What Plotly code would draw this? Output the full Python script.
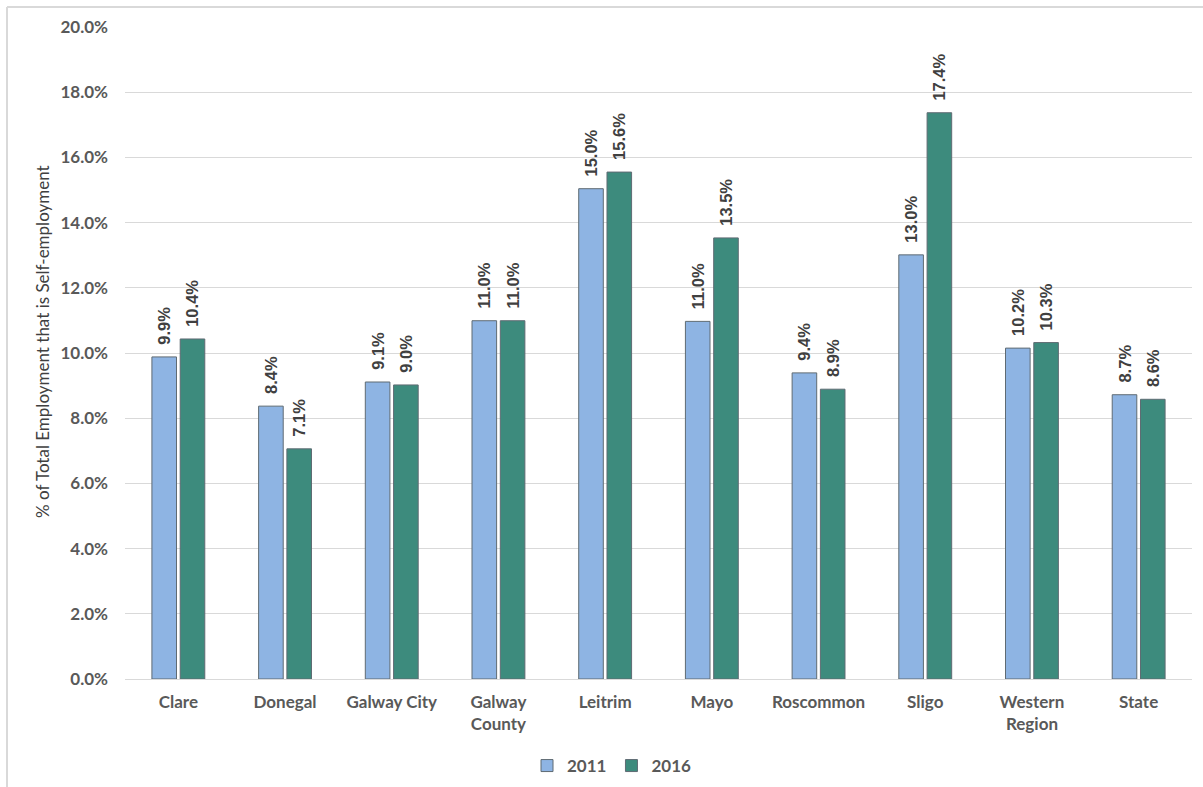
import plotly.graph_objects as go

categories = ["Clare", "Donegal", "Galway City", "Galway<br>County", "Leitrim",
              "Mayo", "Roscommon", "Sligo", "Western<br>Region", "State"]
values_2011 = [9.88, 8.37, 9.11, 10.99, 15.04, 10.97, 9.39, 13.01, 10.15, 8.72]
values_2016 = [10.43, 7.06, 9.02, 10.99, 15.55, 13.53, 8.89, 17.37, 10.32, 8.58]
y_ticks = [0, 2, 4, 6, 8, 10, 12, 14, 16, 18, 20]
y_tick_labels = [f"{v:.1f}%" for v in y_ticks]

label_font = dict(family="Liberation Sans, Arial, sans-serif", size=16.5, color="#404040",
                  weight="bold")
pad = "\u00a0\u00a0"

fig = go.Figure()
fig.add_trace(go.Bar(
    name="2011", x=categories, y=values_2011,
    marker=dict(color="#8EB4E3", line=dict(color="#5F6B73", width=1)),
    text=[f"{pad}{v:.1f}%" for v in values_2011], textposition="outside",
    textangle=-90, textfont=label_font, cliponaxis=False, constraintext="none",
))
fig.add_trace(go.Bar(
    name="2016", x=categories, y=values_2016,
    marker=dict(color="#3D8B7D", line=dict(color="#5F6B73", width=1)),
    text=[f"{pad}{v:.1f}%" for v in values_2016], textposition="outside",
    textangle=-90, textfont=label_font, cliponaxis=False, constraintext="none",
))

L, R, T, B = 125, 11, 27, 108
W, H = 1203, 787
pw, ph = W - L - R, H - T - B

def px(x):
    return (x - L) / pw

def py(y):
    return (H - B - y) / ph

tick_font = dict(family="Lato, sans-serif", size=17, color="#595959", weight="bold")

fig.update_layout(
    width=W, height=H,
    margin=dict(l=L, r=R, t=T, b=B, autoexpand=False),
    paper_bgcolor="white", plot_bgcolor="white",
    barmode="group", bargap=0.47, bargroupgap=0.13,
    font=dict(family="Lato, sans-serif", color="#595959"),
    legend=dict(orientation="h", x=px(612), xanchor="center", y=py(766), yanchor="middle",
                font=tick_font, itemwidth=30, traceorder="normal"),
    showlegend=True,
    xaxis=dict(
        tickfont=tick_font,
        showgrid=False, showline=False, ticks="", ticklabelstandoff=11,
    ),
    yaxis=dict(
        range=[0, 20], tickvals=y_ticks, ticktext=y_tick_labels,
        tickfont=tick_font,
        showgrid=True, gridcolor="#D9D9D9", gridwidth=1,
        zeroline=True, zerolinecolor="#D9D9D9", zerolinewidth=1,
        showline=False, ticks="", ticklabelstandoff=16,
    ),
    annotations=[
        dict(text="% of Total Employment that is Self-employment", xref="paper", yref="paper",
             x=px(42), y=py(342), xanchor="center", yanchor="middle", textangle=-90,
             showarrow=False, font=dict(family="Lato, sans-serif", size=17, color="#404040")),
    ],
    shapes=[
        dict(type="line", xref="paper", yref="paper", x0=px(7), x1=px(1203), y0=py(7), y1=py(7),
             line=dict(color="#D9D9D9", width=2)),
        dict(type="line", xref="paper", yref="paper", x0=px(7), x1=px(7), y0=py(7), y1=py(787),
             line=dict(color="#D9D9D9", width=2)),
    ],
)

fig.write_html("out.html")
